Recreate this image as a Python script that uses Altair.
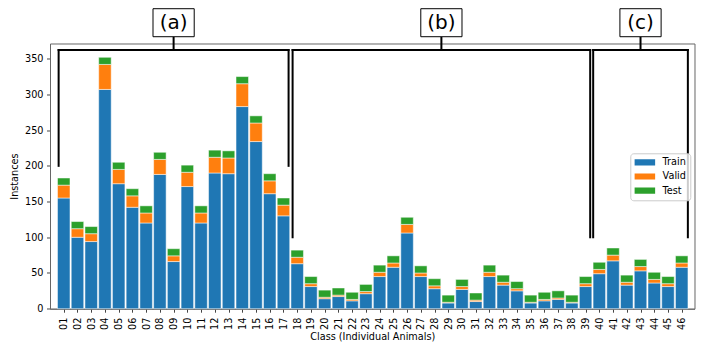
import json
import altair as alt
import pandas as pd

# ---------------- data ----------------
classes = ["01", "02", "03", "04", "05", "06", "07", "08", "09", "10",
           "11", "12", "13", "14", "15", "16", "17", "18", "19", "20",
           "21", "22", "23", "24", "25", "26", "27", "28", "29", "30",
           "31", "32", "33", "34", "35", "36", "37", "38", "39", "40",
           "41", "42", "43", "44", "45", "46"]
train = [155, 100, 94, 307, 175, 142, 120, 188, 66, 171,
         120, 190, 189, 283, 234, 161, 130, 63, 31, 14,
         17, 11, 21, 45, 58, 106, 45, 28, 8, 27,
         10, 45, 33, 25, 8, 11, 13, 8, 31, 49,
         67, 33, 53, 36, 31, 58]
valid = [18, 12, 11, 35, 20, 16, 14, 21, 8, 20,
         14, 22, 22, 32, 26, 18, 15, 9, 4, 2,
         2, 2, 3, 6, 6, 12, 5, 4, 1, 4,
         2, 6, 4, 3, 1, 2, 2, 1, 4, 6,
         8, 4, 6, 5, 4, 6]
test = [10, 10, 10, 10, 10, 10, 10, 10, 10, 10,
        10, 10, 10, 10, 10, 10, 10, 10, 10, 10,
        10, 10, 10, 10, 10, 10, 10, 10, 10, 10,
        10, 10, 10, 10, 10, 10, 10, 10, 10, 10,
        10, 10, 10, 10, 10, 10]
splits = ["Train", "Valid", "Test"]
split_colors = ["#1f77b4", "#ff7f0e", "#2ca02c"]

group_labels = ["(a)", "(b)", "(c)"]
group_first = ["01", "18", "40"]
group_last = ["17", "39", "46"]
group_leg_end = [200, 100, 100]

# ---------------- tables ----------------
rows = []
for series_order, (name, vals) in enumerate(zip(splits, [train, valid, test])):
    for c, v in zip(classes, vals):
        rows.append({"cls": c, "split": name, "value": v, "order": series_order})
df = pd.DataFrame(rows)
groups = pd.DataFrame({"label": group_labels, "first": group_first,
                       "last": group_last, "legend": group_leg_end})

FONT = "DejaVu Sans"
W, H = 644.5, 265.2
xscale = alt.Scale(domain=[0, 46.93], nice=False, zero=False)
yscale = alt.Scale(domain=[0, 371.3], nice=False, zero=True)

BRACKET_Y = 362.2
BOX_BOTTOM = 380.8
BOX_TOP = 420.0
LABEL_Y = 400.4

label_expr = json.dumps(classes) + "[datum.value - 1]"

xaxis = alt.Axis(values=list(range(1, 47)), labelExpr=label_expr, labelAngle=270,
                 labelOverlap=False, labelFlush=False, grid=False,
                 tickSize=3.5, labelPadding=5, labelFontSize=9.7,
                 title="Class (Individual Animals)", titleY=27.5,
                 titleBaseline="middle")
yaxis = alt.Axis(values=[0, 50, 100, 150, 200, 250, 300, 350], grid=False,
                 labelFlush=False, tickSize=3.5, labelPadding=3.5,
                 labelFontSize=9.7, title="Instances", titleX=-35.5,
                 titleY=H / 2, titleAngle=270, titleBaseline="middle")

bars = alt.Chart(df).transform_stack(
    stack="value", groupby=["cls"], as_=["v0", "v1"],
    sort=[alt.SortField("order", order="ascending")]
).transform_calculate(
    xl="toNumber(datum.cls) - 0.455", xr="toNumber(datum.cls) + 0.455"
).mark_rect(stroke="white", strokeWidth=0.5).encode(
    x=alt.X("xl:Q", scale=xscale, axis=xaxis),
    x2="xr:Q",
    y=alt.Y("v0:Q", scale=yscale, axis=yaxis),
    y2="v1:Q",
    color=alt.Color(
        "split:N",
        scale=alt.Scale(domain=splits, range=split_colors),
        legend=alt.Legend(
            title=None, orient="none", legendX=580.3, legendY=109.8,
            symbolType="M-1,-0.3H1V0.3H-1Z", symbolSize=428, symbolStrokeWidth=0,
            clipHeight=10, rowPadding=4.2, padding=4, labelOffset=7.3,
            labelFont=FONT, labelFontSize=9.7, labelColor="black",
            fillColor="rgba(255,255,255,0.8)", strokeColor="#cccccc",
            cornerRadius=3, symbolOpacity=1,
        ),
    ),
)

gbase = alt.Chart(groups).transform_calculate(
    c="(toNumber(datum.first) + toNumber(datum.last)) / 2",
    h="(toNumber(datum.last) - toNumber(datum.first) + 1) / 2 * 0.985",
).transform_calculate(
    xl="datum.c - datum.h", xr="datum.c + datum.h",
    bl="datum.c - 1.5", br="datum.c + 1.5",
)

hline = gbase.mark_rule(color="black", strokeWidth=2, strokeCap="square").encode(
    x=alt.X("xl:Q", scale=xscale, axis=xaxis), x2="xr:Q",
    y=alt.datum(BRACKET_Y, scale=yscale, axis=yaxis),
)
left_leg = gbase.mark_rule(color="black", strokeWidth=2, strokeCap="square").encode(
    x=alt.X("xl:Q", scale=xscale, axis=xaxis),
    y=alt.Y("legend:Q", scale=yscale, axis=yaxis), y2=alt.datum(BRACKET_Y),
)
right_leg = gbase.mark_rule(color="black", strokeWidth=2, strokeCap="square").encode(
    x=alt.X("xr:Q", scale=xscale, axis=xaxis),
    y=alt.Y("legend:Q", scale=yscale, axis=yaxis), y2=alt.datum(BRACKET_Y),
)
stem = gbase.mark_rule(color="black", strokeWidth=2).encode(
    x=alt.X("c:Q", scale=xscale, axis=xaxis),
    y=alt.datum(BRACKET_Y, scale=yscale, axis=yaxis), y2=alt.datum(BOX_BOTTOM),
)
box = gbase.mark_rect(fill="white", stroke="black", strokeWidth=1).encode(
    x=alt.X("bl:Q", scale=xscale, axis=xaxis), x2="br:Q",
    y=alt.datum(BOX_BOTTOM, scale=yscale, axis=yaxis), y2=alt.datum(BOX_TOP),
)
text = gbase.mark_text(font=FONT, fontSize=20, color="black",
                       align="center", baseline="middle").encode(
    x=alt.X("c:Q", scale=xscale, axis=xaxis),
    y=alt.datum(LABEL_Y, scale=yscale, axis=yaxis),
    text="label:N",
)

chart = alt.layer(bars, hline, left_leg, right_leg, stem, box, text).properties(
    width=W, height=H,
    padding={"left": 42, "top": 35.5, "right": 3, "bottom": 36},
    autosize=alt.AutoSizeParams(type="none"),
).configure_view(
    stroke="#666666", strokeWidth=1
).configure_axis(
    domainColor="#666666", tickColor="#444444", labelColor="black",
    titleColor="black", labelFont=FONT, titleFont=FONT, titleFontSize=9.7,
    titleFontWeight="normal",
)

chart.save("out.html", embed_options={"renderer": "svg", "actions": False})
